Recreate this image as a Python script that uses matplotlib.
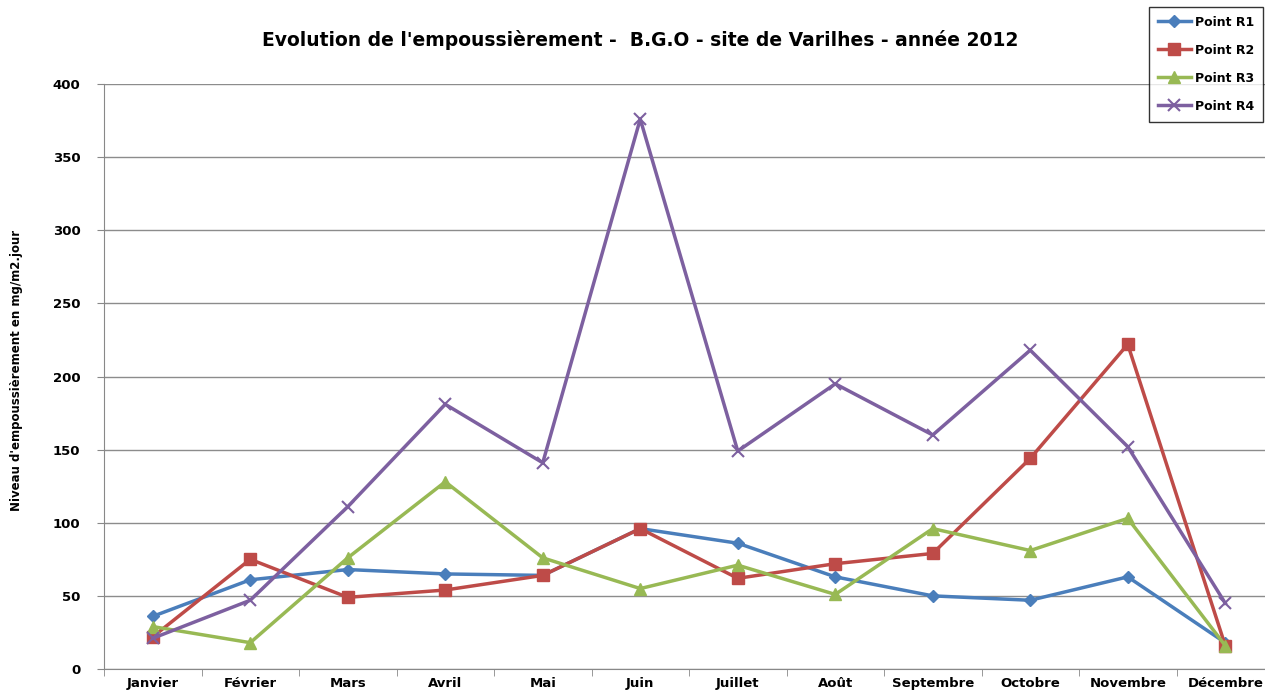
import matplotlib
matplotlib.use('Agg')
import matplotlib.pyplot as plt
import numpy as np

mois = ['Janvier', 'Février', 'Mars', 'Avril', 'Mai', 'Juin', 'Juillet',
        'Août', 'Septembre', 'Octobre', 'Novembre', 'Décembre']
r1 = [36, 61, 68, 65, 64, 96, 86, 63, 50, 47, 63, 18]
r2 = [22, 75, 49, 54, 64, 96, 62, 72, 79, 144, 222, 16]
r3 = [29, 18, 76, 128, 76, 55, 71, 51, 96, 81, 103, 16]
r4 = [21, 47, 111, 181, 141, 376, 149, 195, 160, 218, 152, 45]
y_ticks = [0, 50, 100, 150, 200, 250, 300, 350, 400]

fig = plt.figure(figsize=(12.65, 6.93), dpi=100)
ax = fig.add_axes([104 / 1265, 24 / 693, 1170 / 1265, 585 / 693])

x = np.arange(len(mois))
ax.plot(x, r1, color='#4a7ebb', lw=2.5, marker='D', ms=6, label='Point R1')
ax.plot(x, r2, color='#be4b48', lw=2.5, marker='s', ms=8, label='Point R2')
ax.plot(x, r3, color='#98b954', lw=2.5, marker='^', ms=9, label='Point R3')
ax.plot(x, r4, color='#7d60a0', lw=2.5, marker='x', ms=9, mew=1.5, label='Point R4')

ax.set_xlim(-0.5, 11.5)
ax.set_ylim(0, 400)
ax.set_yticks(y_ticks)
ax.set_xticks(x)
ax.set_xticklabels(mois, fontsize=9.5, fontweight='bold')
ax.set_xticks(np.arange(-0.5, 12, 1), minor=True)
ax.tick_params(axis='x', which='major', length=0, pad=6)
ax.tick_params(axis='x', which='minor', length=5, color='#888888', direction='out')
ax.tick_params(axis='y', length=5, color='#888888', direction='out', labelsize=9.5, pad=12)
for lab in ax.get_yticklabels():
    lab.set_fontweight('bold')

ax.grid(axis='y', color='#8c8c8c', lw=1)
ax.set_axisbelow(True)
for s in ['top', 'right']:
    ax.spines[s].set_visible(False)
for s in ['left', 'bottom']:
    ax.spines[s].set_color('#888888')

ax.set_ylabel("Niveau d'empoussièrement en mg/m2.jour", fontsize=8.5, fontweight='bold')
ax.yaxis.set_label_coords(-0.069, 0.51)

fig.text(0.506, 0.943, "Evolution de l'empoussièrement -  B.G.O - site de Varilhes - année 2012",
         ha='center', va='center', fontsize=13.5, fontweight='bold')

leg = fig.legend(loc='upper right', bbox_to_anchor=(1263 / 1265, 1 - 7 / 693),
                 fontsize=9, frameon=True, fancybox=False, edgecolor='black',
                 borderpad=0.7, labelspacing=1.2, handlelength=2.7, handletextpad=0.3,
                 borderaxespad=0)
for t in leg.get_texts():
    t.set_fontweight('bold')
leg.get_frame().set_linewidth(1)

fig.savefig('out.png', dpi=100)
